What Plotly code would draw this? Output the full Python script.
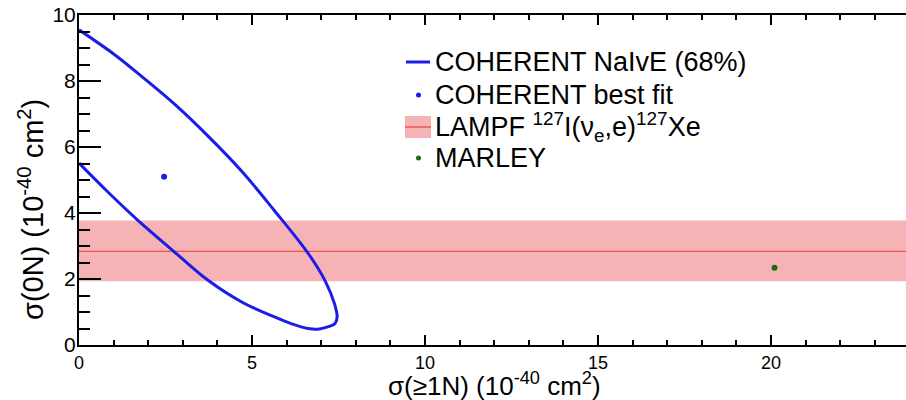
import plotly.graph_objects as go

# ---------------- data ----------------
x_range = [0, 23.9]
y_range = [0, 10]
x_ticks = [0, 5, 10, 15, 20]
y_ticks = [0, 2, 4, 6, 8, 10]

# COHERENT NaIvE 68% contour (outer branch from top-left, round the tip, inner branch back)
contour_x = [0.00, 1.04, 1.81, 2.77, 3.73, 4.69, 5.65, 6.62, 7.12, 7.38, 7.46, 7.40,
             7.19, 6.90, 6.62, 6.13, 5.65, 4.69, 3.73, 2.77, 1.71, 0.85, 0.00]
contour_y = [9.55, 8.79, 8.14, 7.29, 6.33, 5.28, 4.07, 2.78, 1.93, 1.26, 0.85, 0.65,
             0.55, 0.48, 0.50, 0.65, 0.85, 1.31, 1.96, 2.81, 3.77, 4.62, 5.51]

best_fit_x = [2.46]
best_fit_y = [5.10]

marley_x = [20.1]
marley_y = [2.34]

lampf_center = 2.84
lampf_low = 1.93
lampf_high = 3.77

legend_names = [
    "COHERENT NaIvE (68%)",
    "COHERENT best fit",
    "LAMPF <sup>127</sup>I(ν<sub>e</sub>,e)<sup>127</sup>Xe",
    "MARLEY",
]

# ---------------- styling ----------------
W, H = 906, 400
ML, MR, MT, MB = 79, 0, 15, 55
PW, PH = W - ML - MR, H - MT - MB
FONT = "Liberation Sans, Arial, Helvetica, sans-serif"
BLUE = "rgb(28,28,232)"
PINK = "rgba(244,160,164,0.80)"
RED = "rgb(238,80,84)"
GREEN = "rgb(30,105,20)"


def px(xp):
    return (xp - ML) / PW


def py(yp):
    return (MT + PH - yp) / PH


fig = go.Figure()

# LAMPF band
fig.add_trace(go.Scatter(
    x=[x_range[0], x_range[1], x_range[1], x_range[0], x_range[0]],
    y=[lampf_low, lampf_low, lampf_high, lampf_high, lampf_low],
    fill="toself", fillcolor=PINK, line=dict(width=0), mode="lines",
    hoverinfo="skip", showlegend=False))
fig.add_trace(go.Scatter(
    x=x_range, y=[lampf_center, lampf_center], mode="lines",
    line=dict(color=RED, width=1.2), showlegend=False))

# contour
fig.add_trace(go.Scatter(
    x=contour_x, y=contour_y, mode="lines",
    line=dict(color=BLUE, width=3, shape="spline", smoothing=1.0),
    showlegend=False))

# points
fig.add_trace(go.Scatter(
    x=best_fit_x, y=best_fit_y, mode="markers",
    marker=dict(color=BLUE, size=6), showlegend=False))
fig.add_trace(go.Scatter(
    x=marley_x, y=marley_y, mode="markers",
    marker=dict(color=GREEN, size=6), showlegend=False))

# ---------------- manual legend (ROOT style) ----------------
row_y = [62, 95, 127, 158]
sym_x0, sym_x1, text_x = 406, 430, 433
shapes = []
annotations = []
# row 1: line
shapes.append(dict(type="line", xref="paper", yref="paper",
                   x0=px(sym_x0), x1=px(sym_x1), y0=py(row_y[0]), y1=py(row_y[0]),
                   line=dict(color=BLUE, width=3)))
# row 2: dot
shapes.append(dict(type="circle", xref="paper", yref="paper",
                   x0=px(416), x1=px(421), y0=py(row_y[1] - 2.5), y1=py(row_y[1] + 2.5),
                   fillcolor=BLUE, line=dict(width=0)))
# row 3: band + line
shapes.append(dict(type="rect", xref="paper", yref="paper",
                   x0=px(405), x1=px(431), y0=py(row_y[2] - 11), y1=py(row_y[2] + 11),
                   fillcolor=PINK, line=dict(width=0)))
shapes.append(dict(type="line", xref="paper", yref="paper",
                   x0=px(405), x1=px(431), y0=py(row_y[2]), y1=py(row_y[2]),
                   line=dict(color=RED, width=1.5)))
# row 4: dot
shapes.append(dict(type="circle", xref="paper", yref="paper",
                   x0=px(416), x1=px(421), y0=py(row_y[3] - 2.5), y1=py(row_y[3] + 2.5),
                   fillcolor=GREEN, line=dict(width=0)))

for name, ry in zip(legend_names, row_y):
    annotations.append(dict(text=name, xref="paper", yref="paper",
                            x=px(text_x), y=py(ry), xanchor="left", yanchor="middle",
                            showarrow=False, font=dict(family=FONT, size=27, color="black")))

# axis titles
annotations.append(dict(text="σ(≥1N) (10<sup>-40</sup> cm<sup>2</sup>)",
                        xref="paper", yref="paper", x=px(494), y=py(385),
                        xanchor="center", yanchor="middle", showarrow=False,
                        font=dict(family=FONT, size=26, color="black")))
annotations.append(dict(text="σ(0N) (10<sup>-40</sup> cm<sup>2</sup>)",
                        xref="paper", yref="paper", x=px(31), y=py(210),
                        xanchor="center", yanchor="middle", textangle=-90, showarrow=False,
                        font=dict(family=FONT, size=29, color="black")))

fig.update_layout(
    width=W, height=H,
    margin=dict(l=ML, r=MR, t=MT, b=MB, pad=0),
    paper_bgcolor="white", plot_bgcolor="white",
    font=dict(family=FONT, size=20, color="black"),
    showlegend=False,
    shapes=shapes, annotations=annotations,
    xaxis=dict(range=x_range, tickmode="array", tickvals=x_ticks,
               ticks="inside", ticklen=10, tickwidth=1.5, tickcolor="black",
               minor=dict(dtick=1, ticks="inside", ticklen=5, tickwidth=1.5, tickcolor="black"),
               showline=True, linewidth=2, linecolor="black", mirror="ticks",
               showgrid=False, zeroline=False, tickfont=dict(size=18), ticklabelstandoff=0),
    yaxis=dict(range=y_range, tickmode="array", tickvals=y_ticks,
               ticks="inside", ticklen=22, tickwidth=1.5, tickcolor="black",
               minor=dict(dtick=0.5, ticks="inside", ticklen=11, tickwidth=1.5, tickcolor="black"),
               showline=True, linewidth=2, linecolor="black", mirror=False,
               showgrid=False, zeroline=False, tickfont=dict(size=21), ticklabelstandoff=-3),
    yaxis2=dict(range=y_range, overlaying="y", side="right", tickmode="array", tickvals=y_ticks,
                ticks="inside", ticklen=20, tickwidth=1.5, tickcolor="black",
                minor=dict(dtick=0.5, ticks="inside", ticklen=8, tickwidth=1.5, tickcolor="black"),
                showline=False, showticklabels=False, showgrid=False, zeroline=False),
)

fig.write_html("out.html")
